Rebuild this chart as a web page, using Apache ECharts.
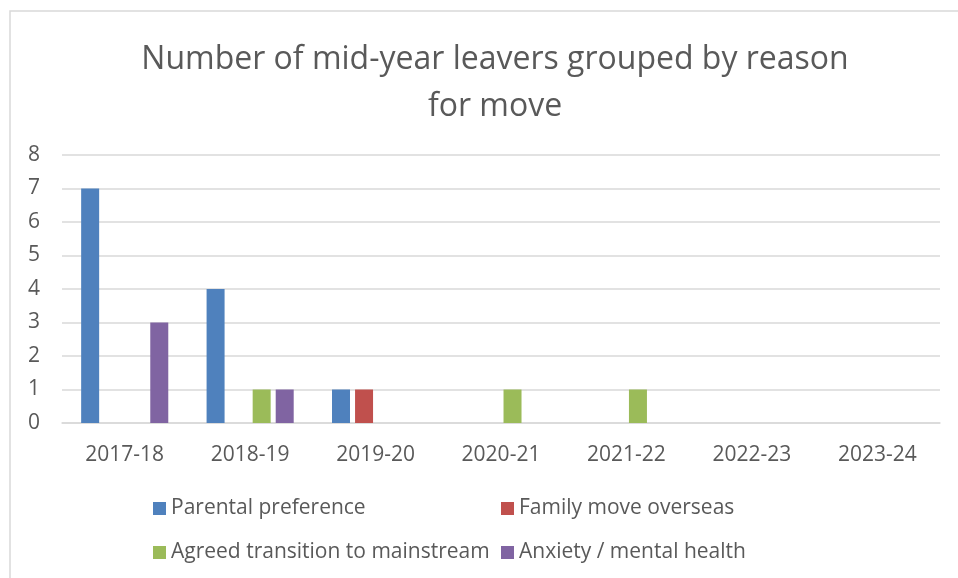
<!DOCTYPE html>
<html>
<head>
<meta charset="utf-8">
<script src="https://cdn.jsdelivr.net/npm/echarts@6/dist/echarts.min.js"></script>
<style>
  html, body { margin: 0; padding: 0; background: #fff; }
  #chart { width: 958px; height: 578px; }
</style>
</head>
<body>
<div id="chart"></div>
<script>
/* data */
var years = ['2017-18', '2018-19', '2019-20', '2020-21', '2021-22', '2022-23', '2023-24'];
var parentalPreference = [7, 4, 1, 0, 0, 0, 0];
var familyMoveOverseas = [0, 0, 1, 0, 0, 0, 0];
var agreedTransition = [0, 1, 0, 1, 1, 0, 0];
var anxietyMentalHealth = [3, 1, 0, 0, 0, 0, 0];
var seriesNames = ['Parental preference', 'Family move overseas',
                   'Agreed transition to mainstream', 'Anxiety / mental health'];
var colors = ['#4F81BD', '#C0504D', '#9BBB59', '#8064A2'];

var font = "'Open Sans', 'Liberation Sans', sans-serif";
var textColor = '#595959';

var chart = echarts.init(document.getElementById('chart'));

var makeSeries = function (name, data, color) {
    return {
        name: name,
        type: 'bar',
        data: data,
        barWidth: 18,
        barGap: '28%',
        itemStyle: { color: color },
        emphasis: { disabled: true }
    };
};

/* one legend per item so the two columns line up like the original */
var legendPos = [[148, 493], [496, 493], [148, 537], [496, 537]];
var legends = seriesNames.map(function (name, i) {
    return {
        data: [name],
        left: legendPos[i][0],
        top: legendPos[i][1],
        itemWidth: 13,
        itemHeight: 13,
        itemGap: 0,
        icon: 'rect',
        textStyle: { fontFamily: font, fontSize: 21, color: textColor }
    };
});

var option = {
    animation: false,
    color: colors,
    title: {
        text: 'Number of mid-year leavers grouped by reason\nfor move',
        left: 490,
        textAlign: 'center',
        top: 31,
        textStyle: {
            fontFamily: font,
            fontWeight: 'normal',
            fontSize: 32,
            lineHeight: 47,
            color: textColor
        }
    },
    graphic: [{
        type: 'rect',
        shape: { x: 10, y: 11, width: 960, height: 580 },
        style: { fill: 'none', stroke: '#D9D9D9', lineWidth: 1.5 },
        silent: true
    }],
    legend: legends,
    grid: { left: 62, right: 18, top: 155, bottom: 155 },
    xAxis: {
        type: 'category',
        data: years,
        axisLine: { lineStyle: { color: '#D9D9D9', width: 1.5 } },
        axisTick: { show: false },
        axisLabel: { fontFamily: font, fontSize: 21, color: textColor, margin: 22 }
    },
    yAxis: {
        type: 'value',
        min: 0,
        max: 8,
        interval: 1,
        axisLine: { show: false },
        axisTick: { show: false },
        splitLine: { lineStyle: { color: '#D9D9D9', width: 1.5 } },
        axisLabel: { fontFamily: font, fontSize: 21, color: textColor, margin: 22 }
    },
    series: [
        makeSeries(seriesNames[0], parentalPreference, colors[0]),
        makeSeries(seriesNames[1], familyMoveOverseas, colors[1]),
        makeSeries(seriesNames[2], agreedTransition, colors[2]),
        makeSeries(seriesNames[3], anxietyMentalHealth, colors[3])
    ]
};

chart.setOption(option);
</script>
</body>
</html>
